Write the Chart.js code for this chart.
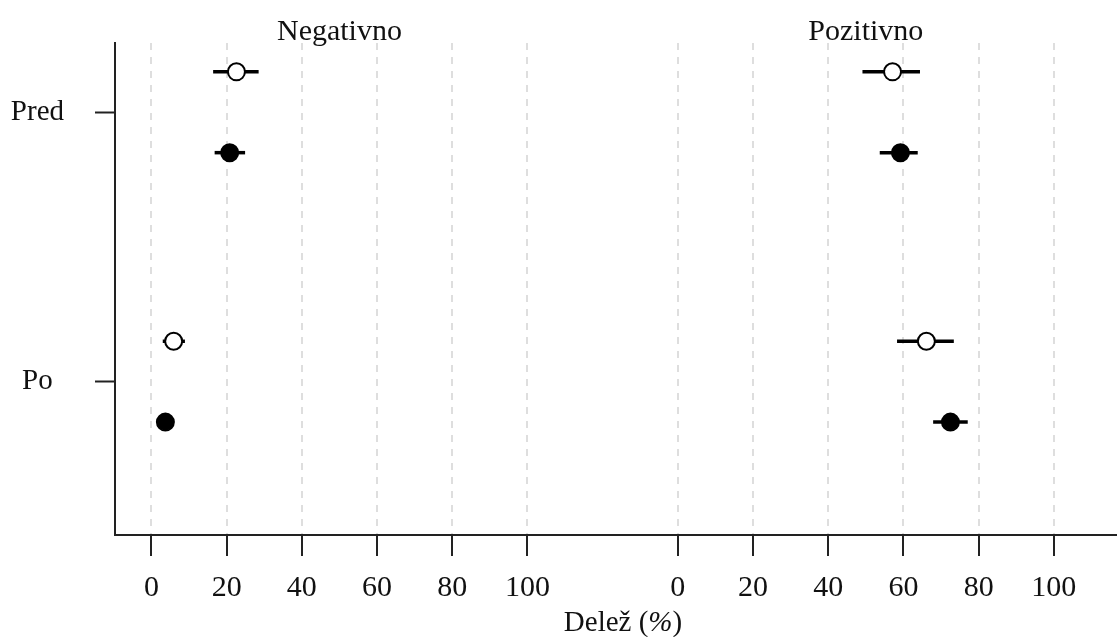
<!DOCTYPE html>
<html>
<head>
<meta charset="utf-8">
<script src="https://cdn.jsdelivr.net/npm/chart.js@4"></script>
<style>
  html, body { margin: 0; padding: 0; background: #fff; }
  #wrap { width: 1117px; height: 637px; position: relative; }
</style>
</head>
<body>
<div id="wrap"><canvas id="chart"></canvas></div>
<script>
const groups = ['Pred', 'Po'];
const panels = ['Negativno', 'Pozitivno'];
const tickValues = [0, 20, 40, 60, 80, 100];

// Negativno
const negOpen = [22.6, 5.9];
const negOpenLo = [16.4, 3.0];
const negOpenHi = [28.5, 8.9];
const negFilled = [20.8, 3.7];
const negFilledLo = [16.8, 2.2];
const negFilledHi = [24.9, 5.3];

// Pozitivno
const posOpen = [57.1, 66.1];
const posOpenLo = [49.1, 58.3];
const posOpenHi = [64.4, 73.4];
const posFilled = [59.2, 72.5];
const posFilledLo = [53.7, 67.9];
const posFilledHi = [63.8, 77.1];

const PANEL_GAP = 140;   // second panel starts 140 units right of the first
const DY = 0.15;         // vertical shift of the two markers around a group
const SERIF = '"Liberation Serif", "DejaVu Serif", serif';
const INK = '#111';

const datasets = [];

function addSeries(vals, lo, hi, panel, dy, filled) {
  const off = panel * PANEL_GAP;
  vals.forEach((v, i) => {
    datasets.push({
      data: [{ x: lo[i] + off, y: i + dy }, { x: hi[i] + off, y: i + dy }],
      showLine: true,
      borderColor: '#000',
      borderWidth: 3.5,
      pointRadius: 0,
      order: 2
    });
  });
  datasets.push({
    data: vals.map((v, i) => ({ x: v + off, y: i + dy })),
    pointRadius: 8.5,
    pointBackgroundColor: filled ? '#000' : '#fff',
    pointBorderColor: '#000',
    pointBorderWidth: 2,
    order: 1
  });
}

addSeries(negOpen, negOpenLo, negOpenHi, 0, -DY, false);
addSeries(negFilled, negFilledLo, negFilledHi, 0, DY, true);
addSeries(posOpen, posOpenLo, posOpenHi, 1, -DY, false);
addSeries(posFilled, posFilledLo, posFilledHi, 1, DY, true);

const allTicks = tickValues.concat(tickValues.map(v => v + PANEL_GAP));

const titles = {
  id: 'titles',
  afterDraw(chart) {
    const { ctx, scales: { x } } = chart;
    ctx.save();
    ctx.fillStyle = INK;
    ctx.textBaseline = 'alphabetic';
    ctx.textAlign = 'center';
    ctx.font = '30px ' + SERIF;
    panels.forEach((p, i) => ctx.fillText(p, x.getPixelForValue(50 + i * PANEL_GAP), 40));

    // x axis title, with the % in italics
    const parts = [['Delež (', ''], ['%', 'italic '], [')', '']];
    ctx.textAlign = 'left';
    let total = 0;
    parts.forEach(p => { ctx.font = p[1] + '29px ' + SERIF; total += ctx.measureText(p[0]).width; });
    let cx = 623 - total / 2;
    parts.forEach(p => {
      ctx.font = p[1] + '29px ' + SERIF;
      ctx.fillText(p[0], cx, 631);
      cx += ctx.measureText(p[0]).width;
    });
    ctx.restore();
  }
};

new Chart(document.getElementById('chart'), {
  type: 'scatter',
  data: { datasets },
  options: {
    responsive: true,
    maintainAspectRatio: false,
    animation: false,
    layout: { autoPadding: false, padding: { top: 43, left: 0, right: 0, bottom: 0 } },
    plugins: { legend: { display: false }, tooltip: { enabled: false } },
    scales: {
      x: {
        type: 'linear',
        min: -9.7,
        max: 256.8,
        z: 1,
        afterBuildTicks: s => { s.ticks = allTicks.map(v => ({ value: v })); },
        afterFit: s => { s.height = 102; s.paddingLeft = 0; s.paddingRight = 0; },
        ticks: {
          autoSkip: false,
          maxRotation: 0,
          padding: 14,
          color: INK,
          font: { family: SERIF, size: 30 },
          callback: v => (v >= PANEL_GAP ? v - PANEL_GAP : v)
        },
        grid: {
          color: '#dedede',
          lineWidth: 2,
          tickColor: '#222',
          tickWidth: 2,
          tickLength: 21,
          tickBorderDash: []
        },
        border: { display: true, color: '#222', width: 2, dash: [7, 7] }
      },
      y: {
        type: 'linear',
        reverse: true,
        min: -0.257,
        max: 1.569,
        afterBuildTicks: s => { s.ticks = groups.map((g, i) => ({ value: i })); },
        afterFit: s => { s.width = 115; s.paddingTop = 0; s.paddingBottom = 0; },
        ticks: {
          crossAlign: 'center',
          padding: 31,
          color: INK,
          font: { family: SERIF, size: 29 },
          callback: (v, i) => groups[i]
        },
        grid: {
          drawOnChartArea: false,
          tickColor: '#222',
          tickWidth: 2,
          tickLength: 20
        },
        border: { display: true, color: '#222', width: 2 }
      }
    }
  },
  plugins: [titles]
});
</script>
</body>
</html>
